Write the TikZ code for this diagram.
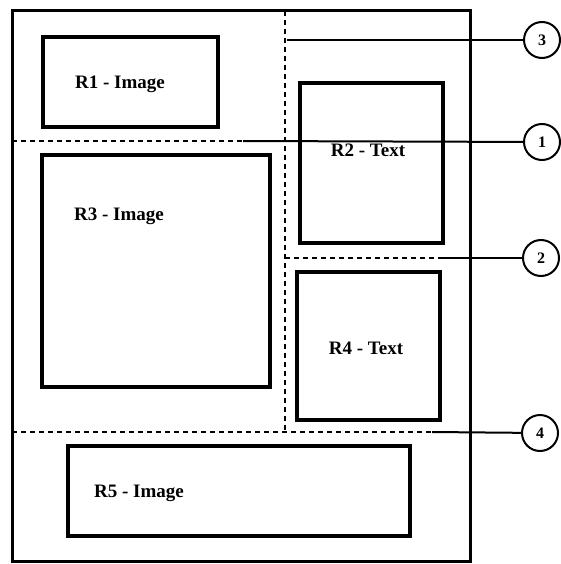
\documentclass[tikz,border=0pt]{standalone}
\usepackage{fontspec}
\setmainfont{Liberation Serif}
\usetikzlibrary{positioning}

\begin{document}
\begin{tikzpicture}[x=1pt,y=-1pt,
    region/.style={draw,line width=3.6pt,inner sep=0pt},
    lbl/.style={anchor=base,inner sep=0pt,font=\bfseries\fontsize{19}{19}\selectfont},
    callout/.style={draw,circle,line width=2pt,minimum size=36pt,inner sep=0pt,font=\bfseries\fontsize{16}{16}\selectfont},
    divider/.style={line width=2.4pt,dash pattern=on 5pt off 4pt},
    leader/.style={line width=2pt},
]
    \useasboundingbox (0,0) rectangle (560,564);

    % page frame and regions
    \node[region,line width=3pt,minimum width=458pt,minimum height=550pt] (frame) at (241,286) {};
    \node[region,minimum width=175pt,minimum height=90pt] (r1) at (130.5,82) {};
    \node[region,minimum width=143pt,minimum height=160pt] (r2) at (371.5,163) {};
    \node[region,minimum width=228pt,minimum height=232pt] (r3) at (156,271) {};
    \node[region,minimum width=143pt,minimum height=148pt] (r4) at (368.5,346) {};
    \node[region,minimum width=342pt,minimum height=90pt] (r5) at (239,491) {};

    \node[lbl] (l1) at (120,88.5) {R1 - Image};
    \node[lbl] (l2) at (368,157) {R2 - Text};
    \node[lbl] (l3) at (119,220) {R3 - Image};
    \node[lbl] (l4) at (366,354) {R4 - Text};
    \node[lbl] (l5) at (139,497) {R5 - Image};

    % numbered cuts
    \node[callout] (c3) at (542,40) {3};
    \node[callout] (c1) at (542,142) {1};
    \node[callout] (c2) at (541,258) {2};
    \node[callout] (c4) at (540,433) {4};

    \coordinate (v3top) at (285,11);
    \coordinate (v3bot) at (285,432);
    \coordinate (v3lead) at (287,40);
    \coordinate (h1a) at (12,141);
    \coordinate (h1b) at (243,141);
    \coordinate (h2a) at (285,258);
    \coordinate (h2b) at (440,258);
    \coordinate (h4a) at (12,432);
    \coordinate (h4b) at (432,432);

    \draw[divider] (v3top) -- (v3bot);
    \draw[divider] (h1a) -- (h1b);
    \draw[divider] (h2a) -- (h2b);
    \draw[divider] (h4a) -- (h4b);

    \draw[leader] (v3lead) -- (c3);
    \draw[leader] (h1b) -- (c1);
    \draw[leader] (h2b) -- (c2);
    \draw[leader] (h4b) -- (c4);
\end{tikzpicture}
\end{document}
